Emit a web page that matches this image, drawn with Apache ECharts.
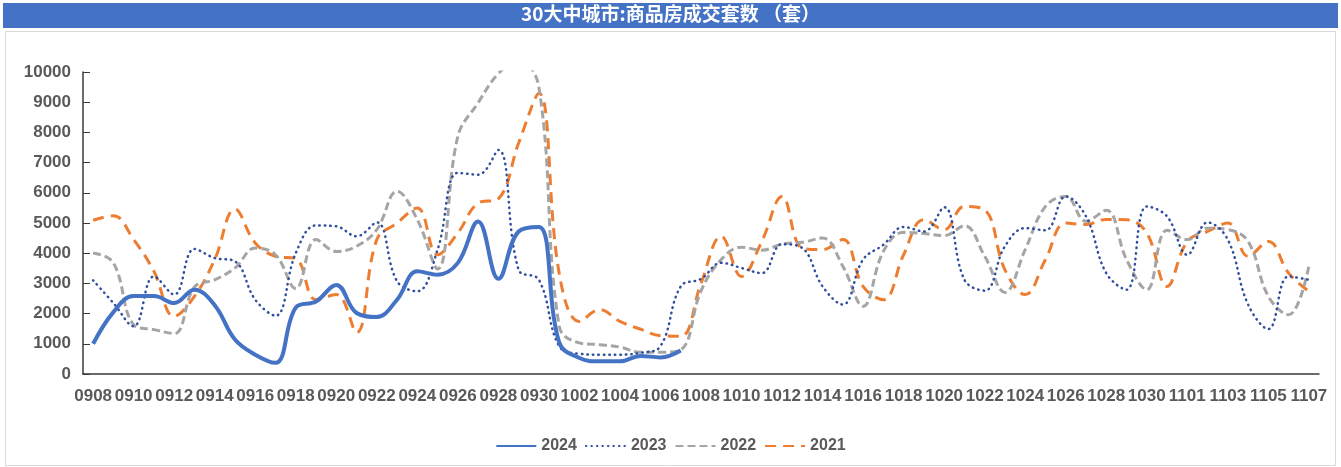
<!DOCTYPE html>
<html>
<head>
<meta charset="utf-8">
<script src="https://cdn.jsdelivr.net/npm/echarts@6/dist/echarts.min.js"></script>
<style>
html,body{margin:0;padding:0;background:#fff;}
#c{width:1341px;height:467px;}
</style>
</head>
<body>
<div id="c"></div>
<script>
const titleText = '30大中城市:商品房成交套数 （套）';
const categories = ['0908','0909','0910','0911','0912','0913','0914','0915','0916','0917','0918','0919','0920','0921','0922','0923','0924','0925','0926','0927','0928','0929','0930','1001','1002','1003','1004','1005','1006','1007','1008','1009','1010','1011','1012','1013','1014','1015','1016','1017','1018','1019','1020','1021','1022','1023','1024','1025','1026','1027','1028','1029','1030','1031','1101','1102','1103','1104','1105','1106','1107'];
const yTicks = [0,1000,2000,3000,4000,5000,6000,7000,8000,9000,10000];
const seriesNames = ['2024','2023','2022','2021'];
const s2024 = [1000,2050,2580,2580,2350,2790,2280,1140,640,370,2200,2400,2950,2020,1890,2460,3400,3290,3680,5050,3150,4720,4870,1050,530,420,420,600,550,780];
const s2023 = [3100,2350,1580,3230,2630,4140,3840,3730,2460,1930,4000,4920,4890,4560,5020,3070,2740,4120,6660,6600,7420,3450,3120,920,670,640,640,700,920,2900,3150,3680,3510,3340,4300,4170,2900,2300,3790,4280,4870,4720,5520,3120,2760,4230,4830,4760,5880,5220,3340,2790,5550,5220,3950,5020,4450,2300,1490,3230,3120];
const s2022 = [4010,3680,1630,1470,1340,2880,3120,3510,4170,3950,2830,4450,4060,4230,4780,6050,5110,3480,7870,8980,9950,10400,9500,1580,1030,970,890,720,720,800,2750,3790,4200,4100,4300,4360,4500,3570,2240,4060,4690,4650,4580,4910,3900,2700,4120,5550,5880,5060,5420,3790,2790,4760,4450,4830,4780,4390,2570,1960,3570];
const s2021 = [5090,5240,4450,3400,1910,2570,3790,5460,4340,3900,3820,2460,2630,1380,4450,5000,5500,3950,4670,5660,5800,7650,9300,3340,1740,2130,1740,1490,1270,1250,3000,4560,3230,4390,5880,4170,4120,4450,2900,2460,3950,5110,4780,5550,5440,3450,2630,3790,5000,4950,5120,5110,4670,2900,4390,4720,5000,3900,4390,3340,2740];

const chart = echarts.init(document.getElementById('c'), null, {renderer:'canvas'});
const labelFont = {color:'#595959', fontWeight:'bold', fontSize:17, fontFamily:'"Liberation Sans", Arial, sans-serif'};
const option = {
  animation:false,
  backgroundColor:'#ffffff',
  graphic:[
    {type:'rect', shape:{x:3,y:3,width:1335,height:25}, style:{fill:'#4472C4'}, silent:true, z:-1},
    {type:'rect', shape:{x:5.5,y:31.5,width:1330,height:434}, style:{fill:'none', stroke:'#D9D9D9', lineWidth:1}, silent:true, z:-1},
    {type:'text', left:'center', top:4, style:{text:titleText, fill:'#ffffff', font:'bold 19px "Noto Sans CJK SC", sans-serif'}, z:10}
  ],
  grid:{left:83, right:22, top:72, bottom:93, containLabel:false},
  legend:{
    data:seriesNames, bottom:8, left:'center', itemWidth:40, itemHeight:12, itemGap:8,
    itemStyle:{opacity:0},
    textStyle:{color:'#595959', fontWeight:'bold', fontSize:16, fontFamily:'"Liberation Sans", Arial, sans-serif'}
  },
  xAxis:{
    type:'category', data:categories, boundaryGap:true,
    axisLine:{lineStyle:{color:'#3a3a3a', width:1.5}},
    axisTick:{inside:true, length:7, interval:0, lineStyle:{color:'#3a3a3a'}},
    axisLabel:Object.assign({interval:1, margin:14}, labelFont),
    splitLine:{show:false}
  },
  yAxis:{
    type:'value', min:yTicks[0], max:yTicks[yTicks.length-1], interval:1000,
    axisLine:{show:true, lineStyle:{color:'#3a3a3a', width:1.5}},
    axisTick:{show:true, inside:true, length:7, lineStyle:{color:'#3a3a3a'}},
    axisLabel:Object.assign({margin:12, formatter:function(v){return String(v);}}, labelFont),
    splitLine:{show:false}
  },
  series:[
    {name:'2023', type:'line', data:s2023, smooth:0.4, symbol:'none', clip:true, z:3,
     lineStyle:{color:'#2F4E9E', width:2.5, type:[0.5,5], cap:'round'}, itemStyle:{color:'#2F4E9E'}},
    {name:'2022', type:'line', data:s2022, smooth:0.4, symbol:'none', clip:true, z:2,
     lineStyle:{color:'#A5A5A5', width:3, type:[8,4]}, itemStyle:{color:'#A5A5A5'}},
    {name:'2021', type:'line', data:s2021, smooth:0.4, symbol:'none', clip:true, z:1,
     lineStyle:{color:'#ED7D31', width:3, type:[11,7]}, itemStyle:{color:'#ED7D31'}},
    {name:'2024', type:'line', data:s2024, smooth:0.4, symbol:'none', clip:true, z:4,
     lineStyle:{color:'#4472C4', width:4}, itemStyle:{color:'#4472C4'}}
  ]
};
chart.setOption(option);
</script>
</body>
</html>
